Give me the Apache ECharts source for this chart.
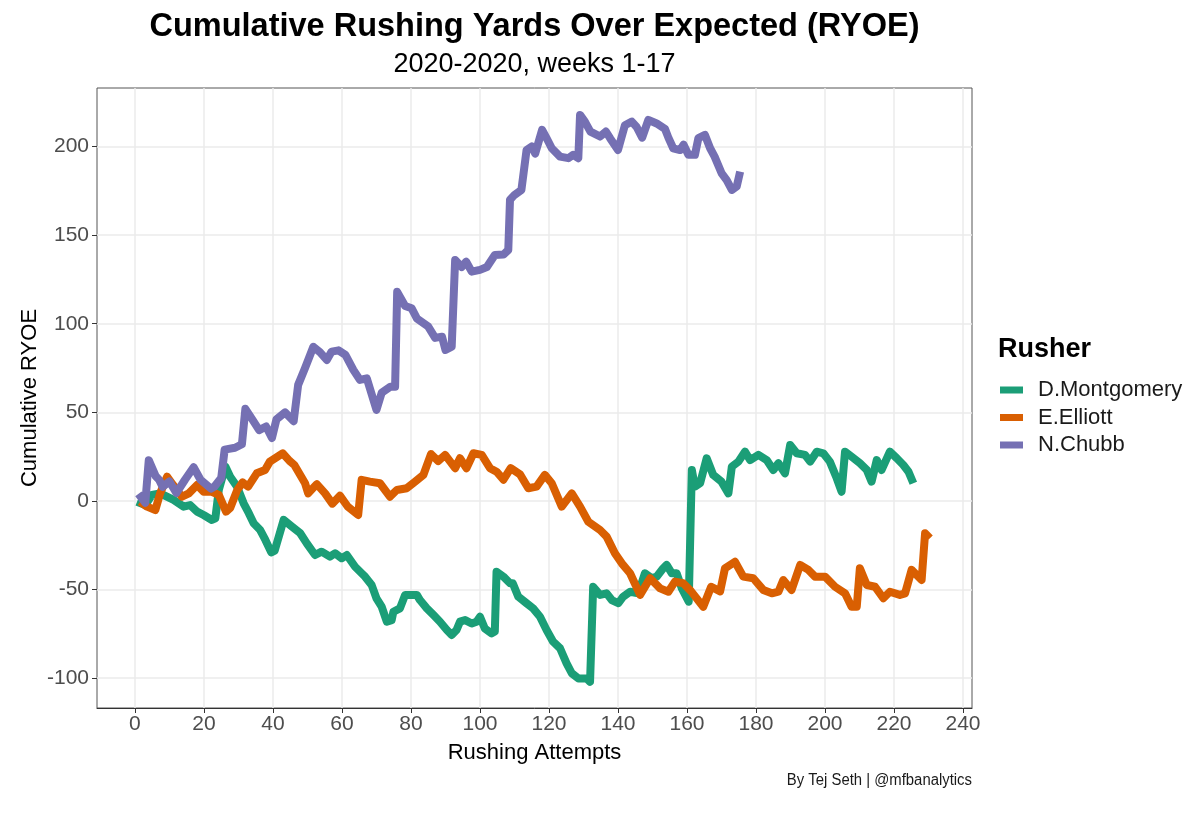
<!DOCTYPE html>
<html><head><meta charset="utf-8">
<script src="https://cdn.jsdelivr.net/npm/echarts@6/dist/echarts.min.js"></script>
<style>html,body{margin:0;padding:0;background:#fff}#c{width:1200px;height:816px}</style>
</head><body><div id="c"></div>
<script>
const rushers = ['D.Montgomery', 'E.Elliott', 'N.Chubb'];
const xTicks = [0, 20, 40, 60, 80, 100, 120, 140, 160, 180, 200, 220, 240];
const yTicks = [-100, -50, 0, 50, 100, 150, 200];

// [rushing attempt, cumulative RYOE]
const montgomery = [[0.6,-0.4],[3,-2.3],[4.9,3.4],[7.3,4.3],[11.2,0.6],[14.1,-3.2],[16,-2.3],[18,-6],[19.9,-7.9],[22.3,-10.7],[23.3,-9.8],[24.3,6.2],[26.2,19.4],[27.6,13.7],[29.6,8.1],[31.5,-1.3],[33,-6.9],[34.4,-12.6],[36.3,-16.4],[37.8,-22],[39.5,-29],[40.5,-28],[43.1,-10.7],[45.5,-14.5],[47.9,-18.2],[49.8,-23.9],[52.2,-30.5],[54.1,-28.6],[56.5,-31.4],[58,-29.5],[59.9,-32.3],[61.4,-30.5],[63.8,-37.1],[65.7,-40.8],[66.7,-42.7],[68.6,-47.4],[70,-54.9],[71.5,-59.6],[73,-68.1],[74.4,-67.2],[74.9,-62.5],[76.8,-60.6],[78.3,-53],[79.7,-53],[81.7,-53],[82.6,-55.9],[84.6,-60.6],[86.5,-64.3],[88.4,-68.1],[90.4,-72.8],[91.8,-75.6],[93.2,-72.8],[94.2,-68.1],[95.7,-67.2],[97.6,-69.1],[99,-68.1],[100,-65.3],[101.4,-71.9],[103.4,-74.7],[104.3,-73.7],[104.8,-39.9],[106.8,-42.7],[108.7,-46.4],[109.5,-46.4],[111.1,-54],[113.5,-57.7],[115.4,-60.6],[117.4,-65.3],[119.3,-72.8],[121.2,-79.4],[123.2,-83.1],[125.1,-91.6],[126.6,-97.2],[128.5,-100.1],[130.9,-100.1],[131.9,-102],[132.8,-48.4],[134.8,-53],[136.7,-52.1],[138.2,-55.9],[140.1,-57.7],[141.5,-54],[143.5,-51.2],[145.9,-52.1],[147.8,-40.8],[149.8,-43.6],[151.2,-42.7],[153.1,-38],[154.1,-36.1],[155.6,-40.8],[157,-40.8],[158.5,-49.3],[160.5,-56.8],[161.4,17.5],[162.3,8.1],[163.8,10],[165.7,24.1],[167.6,14.7],[170,10.9],[172,4.3],[173,19.4],[174.9,22.2],[176.8,27.8],[178.3,23.1],[180.7,26],[183.1,23.1],[185,17.5],[186.5,21.3],[188.4,15.6],[189.9,31.6],[191.8,26.9],[194.2,26],[195.7,22.2],[197.6,27.8],[199.5,26.9],[201.4,22.2],[203.4,12.8],[204.8,5.2],[205.8,27.8],[207.7,25],[210.1,21.3],[212.1,17.5],[213.5,10.9],[215,23.1],[216.4,17.5],[218.8,27.8],[220.8,24.1],[222.7,20.3],[224.2,16.5],[225.6,10]];

const elliott = [[1.5,-0.4],[3.5,-3.2],[5.9,-5.1],[7.3,4.3],[9.3,13.7],[10.7,10],[12.2,6.2],[13.6,2.4],[15.6,4.3],[18,9],[19.9,5.2],[22.3,5.2],[24.3,3.4],[26.4,-6],[27.6,-4],[29.6,6],[31.2,10.5],[32.8,8.1],[35.3,15.6],[37.7,17.5],[39.1,22.2],[42.8,26.9],[44.8,22.6],[46.2,20.3],[49.3,10],[50.2,4.3],[52.7,9.5],[55.1,4.3],[57.2,-1.5],[59.4,3],[61.6,-3],[64.7,-7.9],[65.7,11.9],[68.1,10.9],[71,10],[73.9,2.4],[75.9,6.2],[78.8,7.2],[81.2,10.9],[83.6,14.7],[85.8,26.5],[87.9,22.5],[89.9,26],[92.8,18.5],[94.2,24.1],[96.1,18.5],[98.1,26.9],[100.5,26],[102.9,18.5],[104.8,16.5],[106.8,12],[108.9,18.5],[111.6,15],[114,7.2],[116.4,8.1],[118.8,14.7],[120.8,10],[123.7,-3.2],[126.6,4.3],[129,-3.2],[131.4,-11.7],[134.8,-16.4],[136.7,-20.1],[139.1,-29.5],[141.1,-35.2],[143.5,-40.8],[146.4,-53],[149.3,-43.6],[152.2,-49.3],[154.6,-51.2],[156.5,-45.5],[158.9,-46.4],[161.2,-51],[164.7,-59.7],[167,-48.4],[169.6,-51],[171,-38],[173.9,-34.3],[176.3,-42.7],[179.2,-43.6],[182.1,-50.2],[184.6,-52.1],[186.5,-51.2],[187.9,-44.6],[190.3,-50.2],[192.8,-36.1],[195.2,-38.9],[197.1,-42.7],[200,-42.7],[202.9,-48.4],[205.8,-52.1],[207.7,-59.7],[209.2,-59.7],[210.1,-38],[212.1,-47.4],[214.5,-48.4],[216.9,-54.9],[218.8,-51.2],[221.7,-53],[223.2,-52.1],[225.1,-38.9],[228,-44.6],[229,-18.2],[230.4,-21]];

const chubb = [[1,4],[3,-1],[4,23],[6,14],[7,12],[8,8],[10,11],[12,4.5],[14.5,12],[17,19],[19,12],[22,7],[23,8],[25,13],[26,29],[29,30],[31,32],[32,52],[34,46],[36,40],[38,42],[39.7,35.5],[41,46],[43.5,50],[46,45],[47.3,65.5],[49.3,75],[51.7,87],[53.6,84],[55.6,79.6],[57,84.3],[59,85],[61,82.4],[63.3,74],[65.2,68.3],[67.2,69.2],[70,51.4],[71.5,61],[74,64.5],[75.4,64.5],[76,118],[78.3,110],[80.2,108.7],[81.7,103],[85,98.4],[87,92],[89,92.7],[90,85.2],[91.8,87],[92.8,136],[94.7,132],[96,135],[97.6,129.4],[100,130.4],[102,132],[104.3,138.8],[106.8,139],[108.2,141.6],[108.7,170],[110,172.7],[112,175.5],[113.5,198],[115,200],[116,196],[118,209.4],[119.3,204.7],[120.8,199],[123.2,194.3],[125.6,193.4],[127,195.3],[128.5,193.4],[129,217.8],[130.4,214],[132,208.4],[134.8,205.6],[136.5,208.4],[137.7,204.7],[140,198],[142,212],[144,214],[145.4,211],[147,205],[148.8,215],[151.2,213],[153.6,210],[154.6,205],[156,199],[158,198],[159,201],[160.4,195.3],[162.3,195.3],[163.3,204.7],[165.2,206.5],[166.7,199],[168,194.3],[170,185],[171.5,181],[173,175.5],[174.4,177.4],[175.4,185.8]];

const palette = ['#1B9E77', '#D95F02', '#7570B3'];
const seriesData = [montgomery, elliott, chubb];
const FONT = '"Liberation Sans", Arial, Helvetica, sans-serif';

const chart = echarts.init(document.getElementById('c'), null, {renderer: 'canvas'});
chart.setOption({
  animation: false,
  backgroundColor: '#ffffff',
  color: palette,
  grid: {left: 97, right: 228, top: 88, bottom: 108, show: true, borderColor: '#555', borderWidth: 1, backgroundColor: 'transparent'},
  xAxis: {
    type: 'value', min: -11, max: 242.6,
    axisLine: {show: true, onZero: false, lineStyle: {color: '#333', width: 1}},
    axisTick: {show: true, length: 5, customValues: xTicks, lineStyle: {color: '#333'}},
    axisLabel: {customValues: xTicks, fontSize: 21, color: '#4d4d4d', fontFamily: FONT, margin: 6},
    splitLine: {show: true, lineStyle: {color: '#ebebeb', width: 1.5}}
  },
  yAxis: {
    type: 'value', min: -116.8, max: 233,
    axisLine: {show: false, onZero: false},
    axisTick: {show: true, length: 5, customValues: yTicks, lineStyle: {color: '#333'}},
    axisLabel: {customValues: yTicks, fontSize: 21, color: '#4d4d4d', fontFamily: FONT, margin: 8},
    splitLine: {show: true, lineStyle: {color: '#ebebeb', width: 1.5}}
  },
  legend: {
    orient: 'vertical', left: 995, top: 374,
    icon: 'rect', itemWidth: 23, itemHeight: 7, itemGap: 5.5,
    textStyle: {fontSize: 22, color: '#1a1a1a', fontFamily: FONT, padding: [0, 0, 0, 10]},
    data: rushers
  },
  series: rushers.map((name, i) => ({
    name: name, type: 'line', data: seriesData[i], showSymbol: false, symbol: 'none',
    lineStyle: {width: 8, color: palette[i], cap: 'butt', join: 'round'},
    itemStyle: {color: palette[i]}
  })),
  graphic: [
    {type: 'text', x: 534.5, y: 27, style: {text: 'Cumulative Rushing Yards Over Expected (RYOE)', font: 'bold 32.5px ' + FONT, fill: '#000', align: 'center', verticalAlign: 'middle'}},
    {type: 'text', x: 534.5, y: 65, style: {text: '2020-2020, weeks 1-17', font: '27px ' + FONT, fill: '#000', align: 'center', verticalAlign: 'middle'}},
    {type: 'text', x: 534.5, y: 753, style: {text: 'Rushing Attempts', font: '22px ' + FONT, fill: '#000', align: 'center', verticalAlign: 'middle'}},
    {type: 'text', x: 30, y: 398, rotation: Math.PI / 2, style: {text: 'Cumulative RYOE', font: '22px ' + FONT, fill: '#000', align: 'center', verticalAlign: 'middle'}},
    {type: 'text', x: 998, y: 350, style: {text: 'Rusher', font: 'bold 27px ' + FONT, fill: '#000', align: 'left', verticalAlign: 'middle'}},
    {type: 'text', x: 972, y: 781, scaleX: 0.93, style: {text: 'By Tej Seth | @mfbanalytics', font: '16px ' + FONT, fill: '#1a1a1a', align: 'right', verticalAlign: 'middle'}}
  ]
});
</script></body></html>
